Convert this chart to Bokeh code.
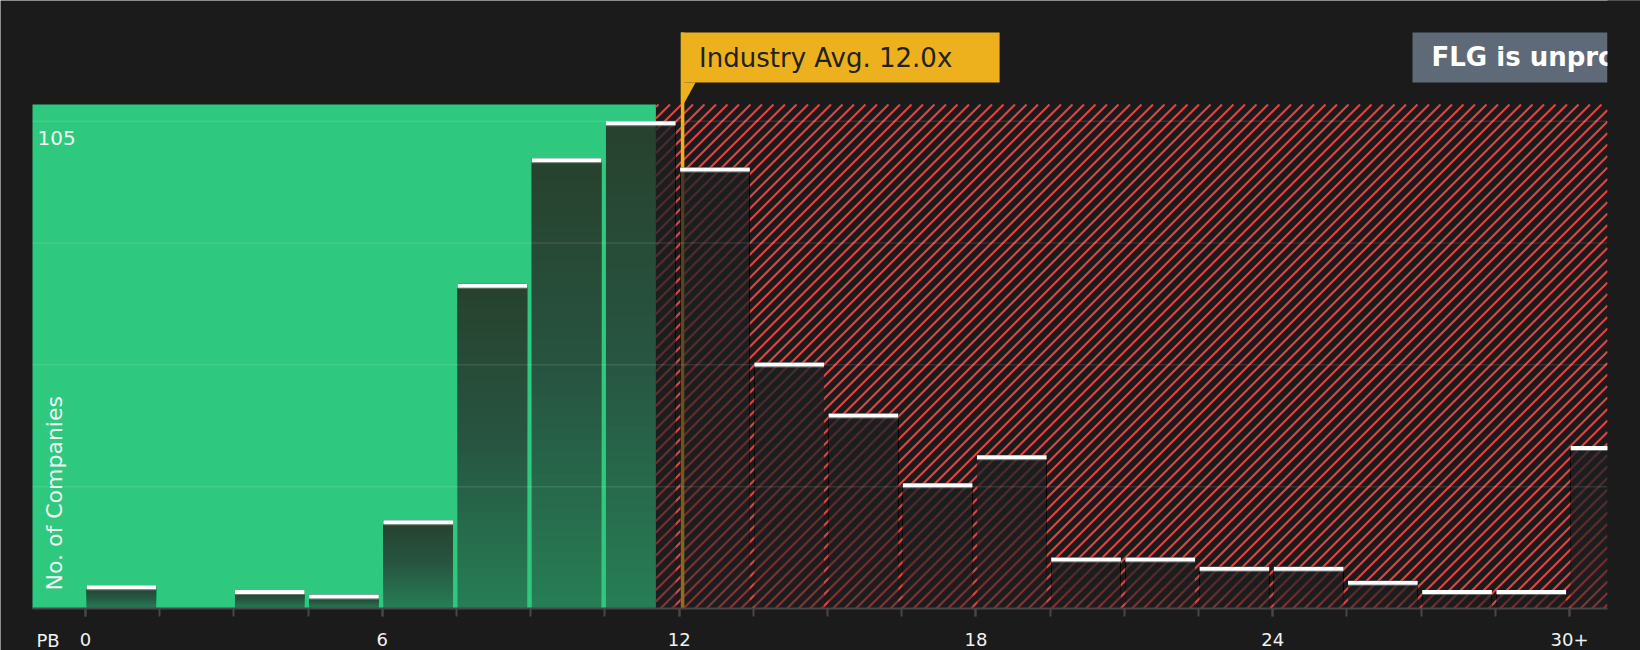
import numpy as np
from bokeh.plotting import figure
from bokeh.models import Range1d, LinearAxis, FixedTicker, Grid
from bokeh.core.properties import value
from bokeh.embed import file_html
from bokeh.resources import INLINE

# ---------------- data ----------------
bin_starts = [0.0, 1.5, 3.0, 4.5, 6.0, 7.5, 9.0, 10.5, 12.0, 13.5, 15.0,
              16.5, 18.0, 19.5, 21.0, 22.5, 24.0, 25.5, 27.0, 28.5, 30.0]
bin_width = 1.5
counts = [5, 0, 4, 3, 19, 70, 97, 105, 95, 53, 42,
          27, 33, 11, 11, 9, 9, 6, 4, 4, 35]
x_tick_values = [0, 6, 12, 18, 24, 30]
x_tick_labels = ["0", "6", "12", "18", "24", "30+"]
y_grid_values = [26.25, 52.5, 78.75, 105]
y_top_label = 105
industry_avg = 12.07
industry_text = "Industry Avg. 12.0x"
company_boundary = 11.53
company_text = "FLG is unprofitable"
x_axis_name = "PB"
y_axis_name = "No. of Companies"

# ---------------- style / layout ----------------
BG = "#1b1b1b"
GREEN = "#2ec97f"
RED = "#e44343"
GOLD = "#edb11e"
SLATE = "#5f6a78"
OVER = "#202223"
AXIS = "#474747"
TXT = "#f2f2f2"
FONT = value("DejaVu Sans")

W, H = 1640, 650
PX = 49.47            # pixels per x unit
PY = 4.641            # pixels per y unit
ZERO_X = 85           # pixel column of x = 0
ZERO_Y = 608          # pixel row of y = 0
X0, X1 = -ZERO_X / PX, (W - ZERO_X) / PX
Y0, Y1 = -(H - ZERO_Y) / PY, ZERO_Y / PY
PLOT_L = (32 - ZERO_X) / PX
PLOT_R = (1607 - ZERO_X) / PX
PLOT_TOP = (ZERO_Y - 104) / PY


def ypix(row):
    """data y of a pixel row"""
    return (ZERO_Y - row) / PY


p = figure(width=W, height=H, x_range=Range1d(X0, X1), y_range=Range1d(Y0, Y1),
           x_axis_location=None, y_axis_location=None,
           output_backend="svg", toolbar_location=None,
           min_border_left=0, min_border_right=0, min_border_top=0, min_border_bottom=0,
           background_fill_color=BG, border_fill_color=None, outline_line_color=None)
p.center = [r for r in p.center if not isinstance(r, Grid)]

# green region
p.quad(left=[PLOT_L], right=[company_boundary], bottom=[0], top=[PLOT_TOP],
       fill_color=GREEN, line_color=None)

# red 45-degree hatching of the region above the company value
xa, xb, yt = company_boundary * PX, PLOT_R * PX, PLOT_TOP * PY
step = 11.5
cs = np.arange(np.floor((xa - yt) / step), np.ceil(xb / step) + 1) * step
hx0, hy0, hx1, hy1 = [], [], [], []
for cc in cs:
    xs = max(xa, cc)
    xe = min(xb, cc + yt)
    if xe <= xs:
        continue
    hx0.append(xs / PX); hy0.append((xs - cc) / PY)
    hx1.append(xe / PX); hy1.append((xe - cc) / PY)
p.segment(x0=hx0, y0=hy0, x1=hx1, y1=hy1, line_color=RED, line_width=2.1)

# industry average line
BOX_BOTTOM = ypix(82)
BOX_TOP = ypix(32)
p.segment(x0=[industry_avg], y0=[0], x1=[industry_avg], y1=[BOX_TOP],
          line_color=GOLD, line_width=3.5)

# bars with vertical gradient (darker at top)
starts = np.array(bin_starts)
c = np.array(counts, dtype=float)
m = c > 0
lefts = starts[m] + 1.0 / PX
rights = starts[m] + bin_width - 3.5 / PX
tops = c[m]
p.quad(left=lefts, right=rights, bottom=0, top=tops, fill_color=OVER,
       fill_alpha=0.45, line_color=None)
N = 40
a2 = 1 - (0.22 / 0.55) ** (1.0 / (N - 1))
ks = np.repeat(np.arange(1, N), len(tops))
p.quad(left=np.tile(lefts, N - 1), right=np.tile(rights, N - 1),
       bottom=np.tile(tops, N - 1) * ks / N, top=np.tile(tops, N - 1),
       fill_color=OVER, fill_alpha=a2, line_color=None)

# white caps
CAP = 4.0 / PY
p.quad(left=lefts, right=rights, bottom=tops - CAP - 1.0 / PY, top=tops - CAP,
       fill_color="#9a9a9a", fill_alpha=0.6, line_color=None)
p.quad(left=lefts, right=rights, bottom=tops - CAP, top=tops,
       fill_color="white", line_color=None)

# horizontal grid lines across the plot area
p.segment(x0=[PLOT_L] * len(y_grid_values), y0=y_grid_values,
          x1=[PLOT_R] * len(y_grid_values), y1=y_grid_values,
          line_color="white", line_alpha=0.1, line_width=1.5)

# x axis (drawn at y = 0)
xaxis = LinearAxis(ticker=FixedTicker(ticks=x_tick_values, minor_ticks=bin_starts),
                   major_label_overrides={v: t for v, t in zip(x_tick_values, x_tick_labels)},
                   fixed_location=0, bounds=(PLOT_L, PLOT_R),
                   axis_line_color=AXIS, axis_line_width=2,
                   major_tick_line_color=AXIS, major_tick_line_width=2,
                   major_tick_out=8, major_tick_in=0,
                   minor_tick_line_color=AXIS, minor_tick_line_width=2,
                   minor_tick_out=8, minor_tick_in=0,
                   major_label_text_color=TXT, major_label_text_font="DejaVu Sans",
                   major_label_text_font_size="18px", major_label_standoff=16)
p.add_layout(xaxis, "below")

p.text(x=[PLOT_L + 4 / PX], y=[ypix(639.5)], text=[x_axis_name],
       text_baseline="hanging", text_color=TXT, text_font=FONT, text_font_size="18px")

# y labels inside plot
p.text(x=[PLOT_L + 5 / PX], y=[y_top_label], text=[str(y_top_label)], text_baseline="top",
       y_offset=9.5, text_color=TXT, text_font=FONT, text_font_size="20px")
p.text(x=[PLOT_L + 22 / PX], y=[18 / PY], text=[y_axis_name], angle=np.pi / 2,
       text_align="left", text_baseline="middle", text_color=TXT,
       text_font=FONT, text_font_size="22px")

# industry average call-out
p.quad(left=[industry_avg - 1.8 / PX], right=[industry_avg + 317 / PX],
       bottom=[BOX_BOTTOM], top=[BOX_TOP], fill_color=GOLD, line_color=None)
p.patch(x=[industry_avg - 1.8 / PX, industry_avg + 13 / PX, industry_avg + 1.8 / PX, industry_avg - 1.8 / PX],
        y=[BOX_BOTTOM, BOX_BOTTOM, PLOT_TOP + 0.4, PLOT_TOP + 0.4],
        fill_color=GOLD, line_color=None)
p.text(x=[industry_avg + 16.5 / PX], y=[ypix(57.2)], text=[industry_text],
       text_baseline="alphabetic", text_color="#222222", text_font=FONT,
       text_font_size="26px")

# company call-out (cut at the right edge of the plot area)
p.quad(left=[(1412 - ZERO_X) / PX], right=[PLOT_R], bottom=[BOX_BOTTOM], top=[BOX_TOP],
       fill_color=SLATE, line_color=None)
p.text(x=[(1431 - ZERO_X) / PX], y=[ypix(56.2)], text=[company_text],
       text_baseline="alphabetic", text_color="white", text_font=FONT,
       text_font_size="26px", text_font_style="bold")

# right margin cover
p.quad(left=[PLOT_R], right=[X1 + 1], bottom=[Y0 - 1], top=[Y1 + 1],
       fill_color=BG, line_color=None)

open("out.html", "w").write(file_html(p, INLINE))
